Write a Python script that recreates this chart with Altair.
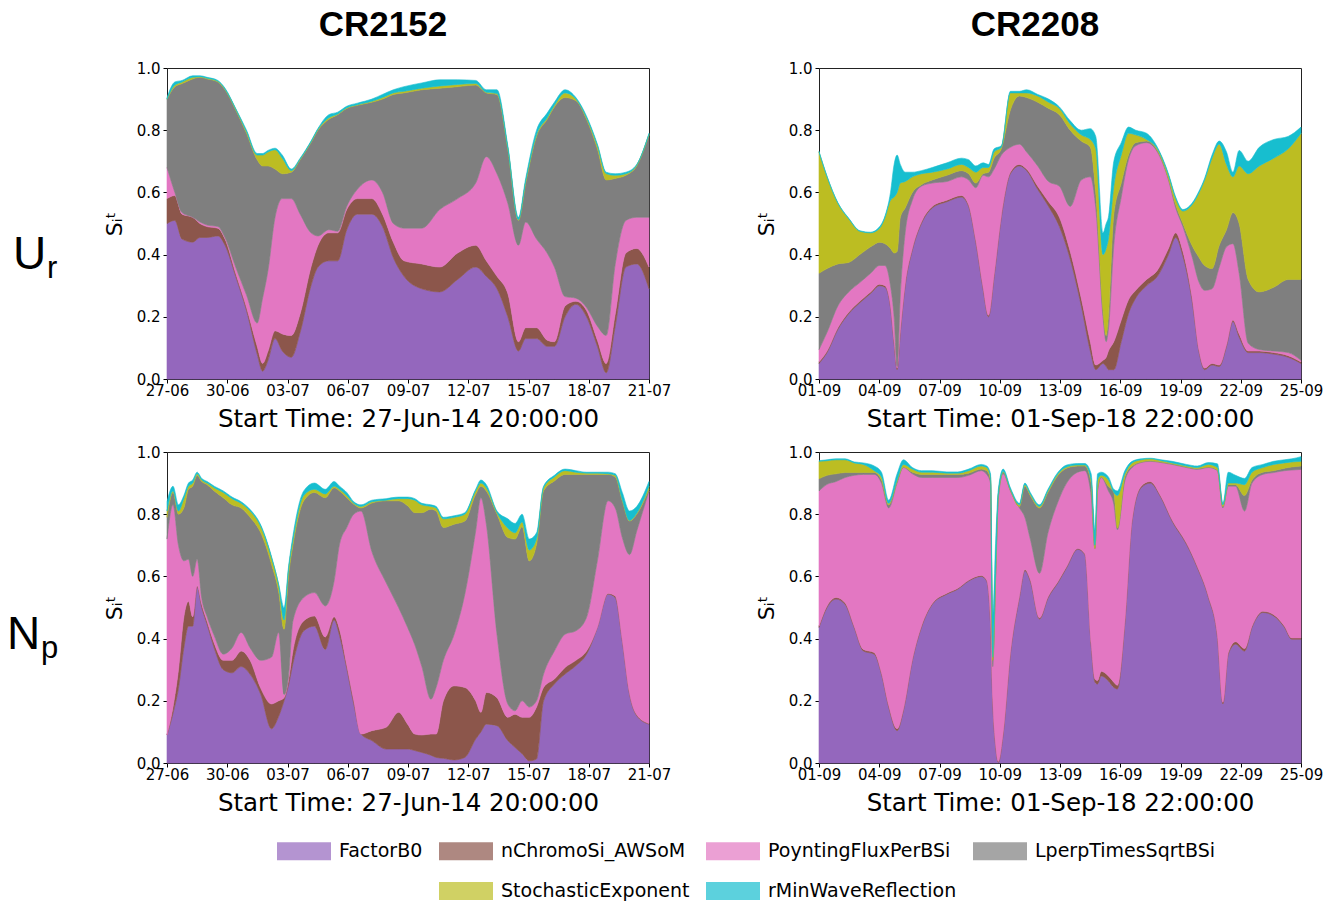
import json

import altair as alt
import pandas as pd

# Parameters whose total-effect Sobol indices are stacked, bottom to top
SERIES = ["FactorB0", "nChromoSi_AWSoM", "PoyntingFluxPerBSi",
          "LperpTimesSqrtBSi", "StochasticExponent", "rMinWaveReflection"]
COLORS = ["#9467bd", "#8c564b", "#e377c2", "#7f7f7f", "#bcbd22", "#17becf"]

# Legend grid of 4 columns; blank cells put the second row under columns 2 and 3
LEGEND_DOMAIN = SERIES[:4] + [" "] + SERIES[4:] + ["  "]
LEGEND_RANGE = COLORS[:4] + ["#ffffff"] + COLORS[4:] + ["#ffffff"]

TICKS_CR2152 = ["27-06", "30-06", "03-07", "06-07", "09-07", "12-07", "15-07", "18-07", "21-07"]
TICKS_CR2208 = ["01-09", "04-09", "07-09", "10-09", "13-09", "16-09", "19-09", "22-09", "25-09"]
START_CR2152 = "Start Time: 27-Jun-14 20:00:00"
START_CR2208 = "Start Time: 01-Sep-18 22:00:00"

# Each list below holds the upper edge of a band in the cumulative stack
# (days since the start time on x).

# ---- U_r, CR2152 ----
UR2152_DAY = [0, 0.39, 0.75, 1.28, 1.64, 2.0, 2.53, 2.89, 3.42, 3.96,
              4.49, 4.76, 5.03, 5.38, 5.74, 6.19, 6.63, 7.17, 7.52, 8.06,
              8.5, 8.95, 9.48, 10.2, 10.73, 11.27, 11.8, 12.69, 13.58, 14.47,
              15.37, 15.9, 16.43, 16.97, 17.5, 17.86, 18.4, 18.93, 19.29, 19.82,
              20.36, 20.89, 21.43, 21.87, 22.32, 22.85, 23.39, 24]
UR2152_B0 = [.50, .51, .45, .44, .455, .455, .46, .43, .33, .22,
             .08, .025, .06, .13, .09, .07, .15, .30, .36, .38,
             .38, .48, .53, .53, .49, .39, .33, .29, .28, .32,
             .36, .33, .29, .20, .09, .13, .13, .105, .105, .20,
             .24, .20, .105, .02, .17, .36, .37, .29]
UR2152_CHROMO = [.58, .59, .53, .52, .50, .49, .485, .45, .34, .23,
                 .105, .05, .09, .155, .145, .14, .21, .36, .43, .47,
                 .47, .545, .58, .58, .53, .44, .38, .37, .36, .405,
                 .43, .38, .33, .275, .12, .165, .165, .125, .12, .235,
                 .25, .22, .125, .05, .21, .405, .42, .36]
UR2152_POYNTING = [.68, .60, .535, .52, .505, .495, .49, .455, .36, .27,
                   .18, .26, .35, .52, .58, .58, .53, .47, .46, .48,
                   .475, .555, .61, .64, .60, .50, .485, .485, .545, .58,
                   .63, .715, .66, .565, .43, .505, .45, .405, .36, .265,
                   .26, .23, .17, .14, .37, .51, .52, .52]
UR2152_LPERP = [.90, .94, .95, .965, .97, .965, .955, .93, .865, .79,
                .705, .685, .685, .675, .66, .665, .705, .76, .80, .835,
                .85, .87, .88, .89, .90, .915, .92, .93, .935, .94,
                .945, .92, .915, .74, .51, .63, .78, .835, .875, .905,
                .895, .835, .74, .64, .645, .655, .685, .785]
UR2152_STOCH = [.90, .945, .955, .97, .972, .967, .957, .932, .868, .795,
                .72, .72, .73, .737, .71, .67, .707, .762, .803, .84,
                .852, .872, .882, .893, .905, .92, .925, .935, .942, .947,
                .95, .922, .918, .742, .512, .635, .785, .84, .88, .92,
                .90, .84, .75, .66, .655, .66, .688, .787]
UR2152_RMIN = [.905, .955, .96, .975, .975, .97, .96, .935, .87, .80,
               .725, .725, .735, .742, .72, .675, .71, .765, .806, .85,
               .858, .877, .887, .90, .915, .93, .94, .952, .962, .962,
               .96, .93, .93, .75, .52, .645, .80, .855, .89, .93,
               .905, .845, .755, .665, .66, .665, .69, .79]

# ---- U_r, CR2208 ----
UR2208_DAY = [0, 0.40, 0.94, 1.48, 2.03, 2.57, 3.02, 3.29, 3.56, 3.74,
              3.89, 4.05, 4.29, 4.65, 5.10, 5.64, 6.37, 7.09, 7.45, 7.81,
              8.17, 8.44, 8.72, 9.08, 9.53, 9.98, 10.34, 10.89, 11.43, 11.97,
              12.51, 13.06, 13.51, 13.78, 14.14, 14.30, 14.41, 14.68, 15.05, 15.41,
              15.77, 16.31, 16.85, 17.40, 17.76, 18.12, 18.57, 18.93, 19.20, 19.57,
              19.93, 20.29, 20.61, 20.92, 21.37, 21.92, 22.64, 23.36, 24.0]
UR2208_B0 = [.05, .085, .16, .21, .245, .275, .30, .295, .23, .115,
             .03, .15, .30, .415, .50, .55, .57, .585, .555, .44,
             .29, .20, .33, .52, .66, .685, .67, .61, .555, .49,
             .385, .235, .09, .03, .05, .04, .03, .03, .12, .21,
             .26, .30, .33, .40, .455, .395, .255, .085, .03, .045,
             .04, .105, .185, .135, .085, .085, .08, .07, .05]
UR2208_CHROMO = [.055, .09, .165, .215, .25, .28, .305, .30, .235, .12,
                 .035, .155, .305, .42, .505, .555, .575, .59, .56, .445,
                 .295, .205, .335, .525, .665, .69, .675, .62, .57, .52,
                 .41, .26, .12, .045, .06, .07, .09, .12, .19, .255,
                 .285, .32, .35, .42, .47, .41, .265, .09, .035, .05,
                 .045, .11, .19, .145, .09, .09, .085, .075, .055]
UR2208_POYNTING = [.095, .15, .235, .28, .31, .34, .365, .365, .30, .20,
                   .04, .27, .47, .575, .62, .63, .635, .65, .64, .615,
                   .655, .65, .675, .72, .745, .755, .73, .685, .635, .62,
                   .555, .64, .65, .55, .20, .12, .16, .43, .585, .705,
                   .75, .76, .73, .64, .55, .49, .395, .31, .285, .29,
                   .36, .425, .435, .34, .115, .095, .09, .085, .06]
UR2208_LPERP = [.34, .355, .37, .375, .40, .425, .44, .435, .42, .405,
                .41, .52, .55, .60, .625, .64, .655, .67, .66, .63,
                .66, .665, .71, .74, .865, .91, .905, .89, .87, .85,
                .80, .765, .745, .60, .22, .14, .20, .53, .63, .72,
                .76, .765, .735, .645, .56, .50, .43, .39, .365, .355,
                .43, .48, .535, .50, .32, .28, .295, .32, .32]
UR2208_STOCH = [.73, .65, .565, .515, .475, .47, .485, .52, .575, .585,
                .60, .63, .635, .65, .66, .665, .675, .69, .68, .665,
                .68, .68, .73, .745, .92, .92, .92, .91, .89, .87,
                .82, .785, .77, .74, .40, .42, .45, .62, .72, .79,
                .785, .77, .74, .655, .58, .54, .56, .60, .64, .71,
                .755, .69, .65, .685, .66, .685, .71, .74, .79]
UR2208_RMIN = [.732, .652, .567, .517, .477, .472, .49, .525, .60, .69,
               .72, .69, .665, .665, .67, .68, .695, .71, .705, .685,
               .695, .69, .74, .75, .925, .925, .93, .915, .90, .875,
               .83, .80, .805, .78, .47, .50, .52, .70, .76, .81,
               .80, .79, .745, .66, .585, .545, .565, .605, .645, .72,
               .765, .73, .665, .735, .70, .745, .77, .78, .81]

# ---- N_p, CR2152 ----
NP2152_DAY = [0, 0.30, 0.57, 0.84, 1.07, 1.28, 1.50, 1.73, 2.0, 2.35,
              2.80, 3.24, 3.69, 4.14, 4.67, 5.20, 5.56, 5.83, 6.05, 6.27,
              6.81, 7.34, 7.88, 8.32, 8.59, 8.95, 9.30, 9.66, 10.20, 10.91,
              11.53, 11.98, 12.34, 12.69, 13.14, 13.40, 13.76, 14.30, 14.83, 15.37,
              15.63, 15.90, 16.43, 16.97, 17.33, 17.68, 18.04, 18.40, 18.75, 19.29,
              19.82, 20.36, 20.89, 21.43, 21.96, 22.32, 22.67, 23.03, 23.39, 24.0]
NP2152_B0 = [.09, .16, .24, .37, .44, .44, .566, .50, .445, .37,
             .30, .29, .31, .285, .22, .11, .15, .20, .25, .32,
             .425, .44, .365, .46, .41, .305, .19, .093, .072, .045,
             .045, .045, .04, .034, .025, .018, .015, .01, .018, .077,
             .10, .125, .12, .072, .05, .03, .007, .013, .20, .254,
             .286, .313, .35, .436, .543, .532, .393, .222, .152, .125]
NP2152_CHROMO = [.09, .18, .30, .47, .52, .47, .57, .51, .455, .385,
                 .33, .33, .36, .33, .24, .19, .20, .21, .265, .36,
                 .457, .473, .405, .47, .43, .315, .20, .093, .104, .115,
                 .163, .125, .093, .09, .093, .093, .20, .248, .243, .20,
                 .163, .227, .21, .147, .157, .147, .147, .18, .243, .27,
                 .307, .33, .36, .436, .545, .537, .395, .224, .155, .127]
NP2152_POYNTING = [.72, .83, .70, .65, .655, .60, .655, .53, .47, .41,
                   .35, .37, .42, .37, .33, .34, .42, .22, .28, .457,
                   .532, .548, .505, .585, .703, .757, .80, .81, .68, .58,
                   .50, .436, .38, .31, .205, .243, .33, .414, .543, .746,
                   .853, .768, .414, .19, .168, .20, .18, .20, .286, .36,
                   .414, .425, .468, .65, .843, .82, .725, .67, .746, .875]
NP2152_LPERP = [.79, .87, .80, .82, .88, .89, .925, .905, .895, .875,
                .853, .83, .82, .79, .74, .64, .55, .43, .60, .70,
                .843, .87, .853, .885, .875, .853, .832, .82, .836, .843,
                .843, .827, .805, .805, .816, .81, .757, .768, .778, .864,
                .89, .875, .80, .725, .72, .76, .65, .703, .875, .907,
                .928, .928, .928, .928, .928, .92, .843, .778, .80, .88]
NP2152_STOCH = [.81, .875, .81, .85, .89, .90, .93, .91, .90, .885,
                .87, .85, .835, .81, .76, .66, .57, .46, .62, .715,
                .86, .88, .865, .89, .88, .86, .835, .825, .84, .845,
                .85, .85, .845, .83, .825, .82, .785, .79, .80, .875,
                .90, .885, .805, .755, .74, .775, .685, .72, .885, .92,
                .94, .935, .932, .932, .93, .925, .846, .78, .803, .89]
NP2152_RMIN = [.84, .89, .83, .86, .90, .91, .935, .915, .905, .89,
               .875, .855, .84, .815, .765, .665, .575, .50, .63, .73,
               .875, .90, .88, .905, .89, .87, .84, .83, .845, .85,
               .855, .855, .85, .835, .83, .825, .79, .795, .805, .88,
               .91, .895, .81, .785, .77, .80, .72, .74, .89, .925,
               .945, .94, .935, .935, .935, .93, .87, .81, .825, .905]

# ---- N_p, CR2208 ----
NP2208_DAY = [0, 0.40, 0.85, 1.30, 1.75, 2.21, 2.75, 3.11, 3.47, 3.89,
              4.20, 4.65, 5.10, 5.64, 6.37, 6.91, 7.45, 8.08, 8.35, 8.54,
              8.65, 8.80, 8.93, 9.17, 9.53, 9.98, 10.25, 10.52, 10.98, 11.4,
              11.9, 12.33, 12.88, 13.24, 13.55, 13.74, 13.87, 14.05, 14.41, 14.68,
              14.86, 15.23, 15.59, 16.04, 16.49, 17.03, 17.58, 18.30, 18.84, 19.39,
              19.84, 20.11, 20.38, 20.74, 21.19, 21.56, 22.10, 22.64, 23.18, 23.54,
              24.0]
NP2208_B0 = [.436, .50, .527, .51, .436, .36, .35, .286, .18, .104,
             .168, .33, .436, .51, .543, .559, .585, .60, .585, .45,
             .20, .05, .002, .093, .35, .532, .618, .585, .463, .53,
             .58, .628, .687, .67, .38, .26, .254, .28, .264, .243,
             .238, .45, .778, .885, .90, .853, .778, .703, .628, .532,
             .404, .19, .35, .382, .36, .436, .484, .473, .436, .398,
             .398]
NP2208_CHROMO = [.44, .505, .532, .515, .44, .365, .355, .29, .185, .11,
                 .172, .333, .44, .513, .546, .562, .588, .603, .588, .455,
                 .205, .055, .005, .097, .355, .536, .622, .59, .467, .534,
                 .584, .632, .69, .673, .385, .27, .265, .295, .28, .26,
                 .25, .455, .782, .89, .905, .857, .782, .707, .632, .536,
                 .408, .195, .355, .39, .368, .44, .488, .477, .44, .402,
                 .402]
NP2208_POYNTING = [.875, .896, .905, .918, .925, .928, .928, .90, .82, .90,
                   .95, .93, .918, .918, .918, .918, .925, .94, .928, .90,
                   .31, .60, .85, .93, .875, .82, .79, .72, .61, .74,
                   .84, .90, .935, .94, .86, .69, .875, .918, .875, .832,
                   .75, .907, .95, .966, .97, .966, .96, .95, .944, .95,
                   .94, .82, .89, .89, .81, .90, .928, .934, .94, .942,
                   .944]
NP2208_LPERP = [.914, .925, .93, .934, .934, .934, .934, .91, .83, .905,
                .952, .935, .928, .928, .928, .928, .932, .945, .94, .91,
                .33, .62, .86, .935, .877, .825, .89, .86, .82, .87,
                .925, .948, .955, .955, .90, .69, .88, .92, .89, .87,
                .755, .92, .955, .968, .972, .968, .962, .952, .947, .952,
                .942, .825, .895, .895, .86, .91, .935, .94, .948, .952,
                .955]
NP2208_STOCH = [.97, .972, .975, .975, .965, .96, .94, .92, .835, .91,
                .96, .945, .935, .935, .932, .932, .94, .955, .95, .92,
                .34, .63, .865, .937, .88, .83, .895, .865, .825, .875,
                .93, .952, .958, .958, .91, .70, .91, .925, .91, .87,
                .86, .93, .965, .975, .978, .972, .965, .955, .95, .96,
                .95, .83, .90, .90, .895, .935, .95, .96, .965, .968,
                .97]
NP2208_RMIN = [.972, .975, .978, .978, .968, .965, .955, .935, .845, .93,
               .975, .95, .94, .94, .936, .936, .945, .96, .955, .93,
               .47, .72, .88, .945, .885, .835, .90, .87, .83, .88,
               .935, .958, .963, .963, .93, .75, .93, .935, .92, .88,
               .875, .94, .97, .978, .98, .975, .97, .96, .955, .966,
               .962, .835, .935, .925, .915, .95, .96, .97, .975, .978,
               .985]

ROW_LABELS = {"Ur": ("U", "r"), "Np": ("N", "p")}

PLOT_W, PLOT_H = 482, 311
TEXT_FONT = "DejaVu Sans"
HEAD_FONT = "Liberation Sans"


def band_table(days, uppers):
    """Long table of stacked bands: lower/upper edge per series and time."""
    rows = []
    lower = [0.0] * len(days)
    for name, upper in zip(SERIES, uppers):
        for d, lo, hi in zip(days, lower, upper):
            rows.append({"day": d, "series": name, "lo": lo, "hi": hi})
        lower = upper
    return pd.DataFrame(rows)


def panel(days, uppers, ticks, start_label, title=None, row_label=None):
    color_scale = alt.Scale(domain=LEGEND_DOMAIN, range=LEGEND_RANGE)
    label_expr = json.dumps(ticks) + "[round(datum.value / 3)]"
    areas = alt.Chart(band_table(days, uppers)).mark_area(
        interpolate="monotone", strokeWidth=0.6
    ).encode(
        x=alt.X("day:Q",
                scale=alt.Scale(domain=[0, 24], nice=False, zero=False),
                axis=alt.Axis(values=list(range(0, 25, 3)), labelExpr=label_expr,
                              title=start_label)),
        y=alt.Y("lo:Q",
                scale=alt.Scale(domain=[0, 1], nice=False),
                axis=alt.Axis(values=[0, 0.2, 0.4, 0.6, 0.8, 1.0], format=".1f",
                              title="Sᵢᵗ")),
        y2="hi:Q",
        color=alt.Color("series:N", scale=color_scale, legend=alt.Legend(title=None)),
        stroke=alt.Stroke("series:N", scale=color_scale, legend=None),
    )
    layers = [areas]
    if row_label is not None:
        main, sub = ROW_LABELS[row_label]
        is_n = main == "N"
        lab = pd.DataFrame({"main": [main], "sub": [sub]})
        layers.append(alt.Chart(lab).mark_text(
            align="left", baseline="alphabetic", font=HEAD_FONT, fontSize=46, color="black"
        ).encode(x=alt.value(-160 if is_n else -154), y=alt.value(197 if is_n else 201),
                 text="main:N"))
        layers.append(alt.Chart(lab).mark_text(
            align="left", baseline="alphabetic", font=HEAD_FONT, fontSize=31, color="black"
        ).encode(x=alt.value(-126 if is_n else -120), y=alt.value(206 if is_n else 210),
                 text="sub:N"))
    chart = alt.layer(*layers).properties(width=PLOT_W, height=PLOT_H)
    if title is not None:
        chart = chart.properties(title=alt.Title(
            title, font=HEAD_FONT, fontSize=35, fontWeight="bold", color="black",
            anchor="middle", offset=18, dx=-25))
    return chart


top_left = panel(UR2152_DAY, [UR2152_B0, UR2152_CHROMO, UR2152_POYNTING,
                              UR2152_LPERP, UR2152_STOCH, UR2152_RMIN],
                 TICKS_CR2152, START_CR2152, title="CR2152", row_label="Ur")
top_right = panel(UR2208_DAY, [UR2208_B0, UR2208_CHROMO, UR2208_POYNTING,
                               UR2208_LPERP, UR2208_STOCH, UR2208_RMIN],
                  TICKS_CR2208, START_CR2208, title="CR2208")
bottom_left = panel(NP2152_DAY, [NP2152_B0, NP2152_CHROMO, NP2152_POYNTING,
                                 NP2152_LPERP, NP2152_STOCH, NP2152_RMIN],
                    TICKS_CR2152, START_CR2152, row_label="Np")
bottom_right = panel(NP2208_DAY, [NP2208_B0, NP2208_CHROMO, NP2208_POYNTING,
                                  NP2208_LPERP, NP2208_STOCH, NP2208_RMIN],
                     TICKS_CR2208, START_CR2208)

# Legend swatch: a 54x18 rectangle drawn around a 27 px nominal symbol,
# so legend rows stay close together.
SWATCH = "M-2,-0.667H2V0.667H-2Z"

chart = alt.concat(
    top_left, top_right, bottom_left, bottom_right,
    columns=2, spacing={"row": 73, "column": 170}, bounds="flush",
).properties(
    padding={"left": 6, "top": 7, "right": 10, "bottom": 0},
    background="white",
).configure_view(
    stroke="#222222", strokeWidth=1,
).configure_axis(
    grid=False, domain=False,
    labelFont=TEXT_FONT, labelFontSize=15, labelColor="black",
    labelFlush=False, labelOverlap=False, labelBound=False,
    tickColor="black", tickSize=4, tickWidth=1,
    titleFont=TEXT_FONT, titleFontWeight="normal", titleColor="black",
).configure_axisX(
    labelPadding=0, titleFontSize=24.5, titlePadding=9,
).configure_axisY(
    labelPadding=3, titleFontSize=22, titlePadding=10,
).configure_legend(
    orient="none", legendX=123.5, legendY=769.5, direction="horizontal", columns=4,
    symbolType=SWATCH, symbolSize=729, symbolOpacity=0.7,
    symbolStrokeWidth=0, labelFont=TEXT_FONT, labelFontSize=19, labelColor="black",
    labelLimit=400, labelOffset=21.5, columnPadding=16, rowPadding=16, padding=0,
)

chart.save("out.html", embed_options={"renderer": "svg", "actions": False})
